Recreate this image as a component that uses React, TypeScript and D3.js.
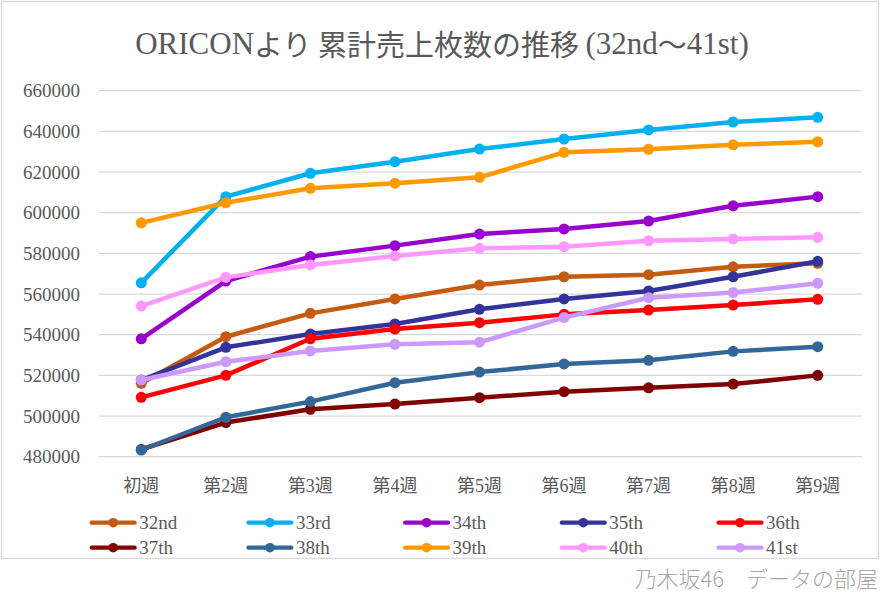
import React, { useEffect, useRef } from "react";
import * as d3 from "d3";

const weeks = ["初週", "第2週", "第3週", "第4週", "第5週", "第6週", "第7週", "第8週", "第9週"];

const names = ["32nd", "33rd", "34th", "35th", "36th", "37th", "38th", "39th", "40th", "41st"];

const s32 = [516100, 539000, 550500, 557600, 564400, 568500, 569500, 573400, 575100];
const s33 = [565500, 607900, 619400, 625100, 631300, 636200, 640700, 644600, 646900];
const s34 = [538000, 566400, 578400, 583800, 589500, 592000, 595900, 603400, 607900];
const s35 = [517700, 533800, 540300, 545300, 552500, 557600, 561500, 568500, 576100];
const s36 = [509200, 520000, 538000, 542800, 545900, 550000, 552100, 554600, 557400];
const s37 = [483600, 496800, 503300, 505900, 509000, 512000, 513900, 515700, 520000];
const s38 = [483300, 499400, 507100, 516400, 521600, 525600, 527400, 531800, 534100];
const s39 = [595000, 604900, 612000, 614500, 617400, 629700, 631200, 633400, 634900];
const s40 = [554100, 568200, 574300, 578700, 582500, 583300, 586200, 587100, 587900];
const s41 = [517700, 526700, 532000, 535300, 536300, 548400, 558200, 560700, 565300];

const yTicks = [480000, 500000, 520000, 540000, 560000, 580000, 600000, 620000, 640000, 660000];

const colors = ["#C55A11", "#00B0F0", "#9900CC", "#333399", "#FF0000", "#800000", "#336699", "#FF9900", "#FF99FF", "#CC99FF"];

// title pieces: [text, isLatin]
const titleParts: [string, boolean][] = [
  ["ORICON", true],
  ["より 累計売上枚数の推移 ", false],
  ["(32nd", true],
  ["〜", false],
  ["41st)", true],
];

const App: React.FC = () => {
  const ref = useRef<SVGSVGElement>(null);

  useEffect(() => {
    document.body.style.margin = "0";
    const svg = d3.select(ref.current);
    svg.selectAll("*").remove();

    const series = [s32, s33, s34, s35, s36, s37, s38, s39, s40, s41];
    const latin = "'Liberation Serif', 'Noto Sans CJK JP', serif";
    const cjk = "'Noto Sans CJK JP', sans-serif";
    const textColor = "#595959";

    // frame
    svg.append("rect")
      .attr("x", 1.5).attr("y", 1.5)
      .attr("width", 877).attr("height", 557)
      .attr("fill", "#fff")
      .attr("stroke", "#d9d9d9")
      .attr("stroke-width", 1.3);

    const x = d3.scaleBand().domain(weeks).range([99, 860]).padding(0);
    const y = d3.scaleLinear().domain([480000, 660000]).range([456.7, 90.7]);
    const cx = (w: string) => x(w)! + x.bandwidth() / 2;

    // title
    const title = svg.append("text")
      .attr("x", 442).attr("y", 43)
      .attr("text-anchor", "middle")
      .attr("dominant-baseline", "central")
      .attr("font-size", 30)
      .attr("fill", textColor);
    titleParts.forEach(([t, isLatin]) => {
      title.append("tspan")
        .attr("font-family", isLatin ? latin : cjk)
        .attr("font-size", isLatin ? 31 : 29)
        .text(t);
    });

    // grid + y labels
    const grid = svg.append("g");
    yTicks.forEach(t => {
      grid.append("line")
        .attr("x1", 99).attr("x2", 862)
        .attr("y1", y(t)).attr("y2", y(t))
        .attr("stroke", "#d9d9d9")
        .attr("stroke-width", 1.3);
      grid.append("text")
        .attr("x", 80).attr("y", y(t))
        .attr("text-anchor", "end")
        .attr("dominant-baseline", "central")
        .attr("font-family", latin)
        .attr("font-size", 19)
        .attr("fill", textColor)
        .text(String(t));
    });

    // x labels
    weeks.forEach(w => {
      svg.append("text")
        .attr("x", cx(w)).attr("y", 486)
        .attr("text-anchor", "middle")
        .attr("dominant-baseline", "central")
        .attr("font-family", latin)
        .attr("font-size", 18)
        .attr("fill", textColor)
        .text(w);
    });

    const line = d3.line<number>()
      .x((_, i) => cx(weeks[i]))
      .y(d => y(d));

    series.forEach((vals, k) => {
      const g = svg.append("g");
      g.append("path")
        .attr("d", line(vals)!)
        .attr("fill", "none")
        .attr("stroke", colors[k])
        .attr("stroke-width", 4.5)
        .attr("stroke-linejoin", "round");
      g.selectAll("circle")
        .data(vals)
        .enter()
        .append("circle")
        .attr("cx", (_, i) => cx(weeks[i]))
        .attr("cy", d => y(d))
        .attr("r", 5.5)
        .attr("fill", colors[k]);
    });

    // legend
    names.forEach((n, k) => {
      const lx = 91.7 + (k % 5) * 156.7;
      const ly = k < 5 ? 522.7 : 547.7;
      const g = svg.append("g");
      g.append("line")
        .attr("x1", lx).attr("x2", lx + 43)
        .attr("y1", ly).attr("y2", ly)
        .attr("stroke", colors[k])
        .attr("stroke-width", 4.2)
        .attr("stroke-linecap", "round");
      g.append("circle")
        .attr("cx", lx + 21.5).attr("cy", ly)
        .attr("r", 4.8)
        .attr("fill", colors[k]);
      g.append("text")
        .attr("x", lx + 47.5).attr("y", ly)
        .attr("dominant-baseline", "central")
        .attr("font-family", latin)
        .attr("font-size", 19)
        .attr("fill", textColor)
        .text(n);
    });

    // credit
    svg.append("text")
      .attr("x", 878).attr("y", 577)
      .attr("text-anchor", "end")
      .attr("dominant-baseline", "central")
      .attr("font-family", cjk)
      .attr("font-weight", 300)
      .attr("font-size", 22)
      .attr("fill", "#a6a6a6")
      .text("乃木坂46　データの部屋");
  }, []);

  return <svg ref={ref} width={886} height={599} style={{ display: "block" }} />;
};

export default App;
